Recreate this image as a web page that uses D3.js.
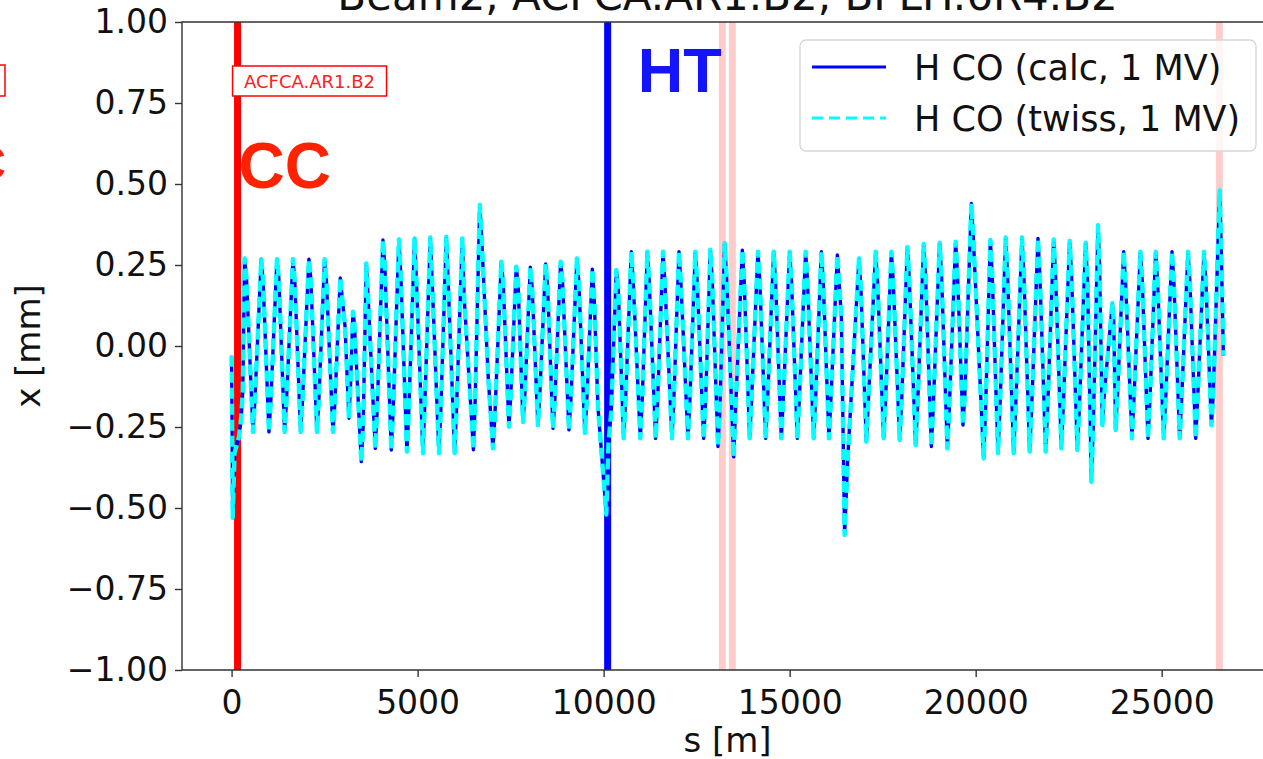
<!DOCTYPE html>
<html lang="en">
<head>
  <meta charset="UTF-8">
  <title>Beam2 closed orbit</title>
  <script type="text/javascript" src="https://d3js.org/d3.v7.min.js"></script>
  <style>
    body{
      margin:0;
      background:#fff;
    }
    text{
      font-family:"DejaVu Sans",sans-serif;
      fill:#111;
    }
    .tag{
      font-family:"Liberation Sans",Arial,sans-serif;
      font-weight:bold;
    }
  </style>
</head>
<body>
  <svg></svg>
  <script type="text/javascript">

  // horizontal closed orbit, [s in m, x in mm]
  var orbitCalc = [
    [0,-0.03],[30,-0.53],[80,-0.33],[200,-0.28],[260,-0.22],[300,-0.14],
    [350,0.27],[400,0.21],[575,-0.265],[625,-0.17],
    [797,0.268],[847,0.2],[1004,-0.265],[1054,-0.17],
    [1219,0.268],[1269,0.21],[1425,-0.265],[1475,-0.17],
    [1649,0.268],[1699,0.2],[1855,-0.265],[1905,-0.17],
    [2078,0.268],[2128,0.21],[2294,-0.265],[2344,-0.17],
    [2500,0.268],[2550,0.2],[2724,-0.265],[2774,-0.18],
    [2921,0.21],[3050,0.06],[3154,-0.223],[3204,-0.1],
    [3262,0.106],[3300,0.07],[3486,-0.357],[3536,-0.25],
    [3620,0.255],[3670,0.15],[3862,-0.316],[3912,-0.2],
    [4068,0.327],[4118,0.25],[4292,-0.321],[4342,-0.2],
    [4498,0.329],[4548,0.22],[4713,-0.326],[4763,-0.2],
    [4919,0.332],[4969,0.2],[5143,-0.331],[5193,-0.18],
    [5341,0.335],[5391,0.2],[5573,-0.331],[5623,-0.2],
    [5771,0.337],[5821,0.2],[5995,-0.331],[6045,-0.2],
    [6201,0.332],[6251,0.15],[6500,-0.32],[6540,-0.2],
    [6670,0.435],[6710,0.36],[6900,-0.1],[7025,-0.316],[7075,-0.22],
    [7249,0.26],[7299,0.2],[7455,-0.249],[7505,-0.15],
    [7652,0.245],[7702,0.19],[7832,-0.234],[7882,-0.15],
    [8029,0.243],[8079,0.18],[8234,-0.244],[8284,-0.15],
    [8441,0.253],[8491,0.19],[8638,-0.254],[8688,-0.17],
    [8844,0.26],[8894,0.2],[9068,-0.259],[9118,-0.17],
    [9282,0.27],[9332,0.2],[9497,-0.269],[9547,-0.17],
    [9696,0.237],[9746,0.15],[9847,-0.187],[10072,-0.52],[10130,-0.3],[10207,-0.2],
    [10341,0.235],[10391,0.18],[10538,-0.285],[10588,-0.17],
    [10744,0.291],[10794,0.2],[10986,-0.285],[11036,-0.17],
    [11175,0.291],[11225,0.2],[11398,-0.285],[11448,-0.18],
    [11595,0.291],[11645,0.2],[11836,-0.285],[11886,-0.17],
    [12025,0.291],[12075,0.2],[12267,-0.285],[12317,-0.17],
    [12464,0.291],[12514,0.2],[12688,-0.285],[12738,-0.18],
    [12868,0.297],[12918,0.21],[13073,-0.31],[13123,-0.2],
    [13253,0.317],[13303,0.22],[13495,-0.342],[13545,-0.2],
    [13728,0.296],[13778,0.2],[13925,-0.285],[13975,-0.17],
    [14148,0.291],[14198,0.2],[14355,-0.285],[14405,-0.17],
    [14570,0.291],[14620,0.2],[14776,-0.285],[14826,-0.17],
    [15000,0.291],[15050,0.2],[15207,-0.285],[15257,-0.17],
    [15430,0.291],[15480,0.2],[15645,-0.285],[15695,-0.17],
    [15852,0.291],[15902,0.2],[16057,-0.285],[16107,-0.17],
    [16282,0.281],[16390,0.09],[16478,-0.583],[16560,-0.35],
    [16864,0.27],[16914,0.18],[17061,-0.295],[17111,-0.18],
    [17312,0.291],[17362,0.2],[17527,-0.285],[17577,-0.17],
    [17734,0.291],[17784,0.2],[17957,-0.29],[18007,-0.18],
    [18164,0.305],[18214,0.21],[18387,-0.306],[18437,-0.19],
    [18602,0.315],[18652,0.22],[18809,-0.31],[18859,-0.19],
    [19032,0.319],[19082,0.22],[19239,-0.316],[19289,-0.2],
    [19462,0.322],[19512,0.22],[19659,-0.244],[19709,-0.15],
    [19884,0.44],[19934,0.34],[20215,-0.347],[20265,-0.2],
    [20395,0.327],[20445,0.22],[20600,-0.331],[20650,-0.2],
    [20806,0.335],[20856,0.22],[21022,-0.331],[21072,-0.2],
    [21245,0.335],[21295,0.22],[21452,-0.326],[21502,-0.2],
    [21675,0.332],[21725,0.22],[21882,-0.326],[21932,-0.2],
    [22097,0.329],[22147,0.22],[22303,-0.316],[22353,-0.19],
    [22527,0.324],[22577,0.22],[22733,-0.321],[22783,-0.2],
    [22957,0.319],[23007,0.2],[23110,-0.419],[23160,-0.25],
    [23289,0.373],[23330,0.25],[23405,-0.244],[23455,-0.15],
    [23674,0.132],[23710,0.08],[23763,-0.259],[23813,-0.15],
    [23978,0.291],[24028,0.2],[24201,-0.285],[24251,-0.17],
    [24427,0.291],[24477,0.2],[24632,-0.285],[24682,-0.17],
    [24839,0.291],[24889,0.2],[25054,-0.285],[25104,-0.17],
    [25277,0.291],[25327,0.2],[25484,-0.285],[25534,-0.17],
    [25707,0.291],[25757,0.2],[25914,-0.285],[25964,-0.17],
    [26137,0.291],[26187,0.2],[26336,-0.244],[26386,-0.15],
    [26560,0.48],[26610,0.25],[26659,-0.03]
  ];
  // the twiss orbit sits on top of the calculated one
  var orbitTwiss = orbitCalc;

  var xTicks = [0, 5000, 10000, 15000, 20000, 25000],
    yTicks = [-1, -0.75, -0.5, -0.25, 0, 0.25, 0.5, 0.75, 1],
    xDomain = [-1333, 27992],
    yDomain = [-1, 1];

  var ccPos = 160,          // crab cavity
    htPos = 10108,          // horizontal tune kicker / BPM
    faintPos = [13190, 13460, 26550],
    seriesNames = ["H CO (calc, 1 MV)", "H CO (twiss, 1 MV)"],
    title = "Beam2, ACFCA.AR1.B2, BPLH.6R4.B2";

  var W = 1263,
    H = 759,
    L = 182, R = 1273, T = 22, B = 670,
    SVG = d3.select("svg").attr("width", W).attr("height", H);

  var x = d3.scaleLinear().domain(xDomain).range([L, R]),
    y = d3.scaleLinear().domain(yDomain).range([B, T]);

  SVG.append("defs").append("clipPath").attr("id", "plot")
    .append("rect").attr("x", L).attr("y", T).attr("width", R - L).attr("height", B - T);

  var g = SVG.append("g").attr("clip-path", "url(#plot)");

  // pale markers
  g.selectAll("line.faint").data(faintPos).enter().append("line")
    .attr("class", "faint")
    .attr("x1", d => x(d)).attr("x2", d => x(d))
    .attr("y1", T).attr("y2", B)
    .attr("stroke", "#ff0000").attr("stroke-opacity", 0.2).attr("stroke-width", 7);

  g.append("line")
    .attr("x1", x(ccPos)).attr("x2", x(ccPos)).attr("y1", T).attr("y2", B)
    .attr("stroke", "#ff0000").attr("stroke-width", 7);

  g.append("line")
    .attr("x1", x(htPos)).attr("x2", x(htPos)).attr("y1", T).attr("y2", B)
    .attr("stroke", "#0000ff").attr("stroke-width", 7);

  var line = d3.line().x(d => x(d[0])).y(d => y(d[1]));

  g.append("path").datum(orbitCalc)
    .attr("d", line).attr("fill", "none")
    .attr("stroke", "#0000ff").attr("stroke-width", 3.4)
    .attr("stroke-linejoin", "round");

  g.append("path").datum(orbitTwiss)
    .attr("d", line).attr("fill", "none")
    .attr("stroke", "#00ffff").attr("stroke-width", 4.4)
    .attr("stroke-dasharray", "11,5")
    .attr("stroke-linejoin", "round");

  // axes
  var xAxis = d3.axisBottom(x).tickValues(xTicks).tickSize(7).tickPadding(6)
      .tickFormat(d3.format("d")),
    yAxis = d3.axisLeft(y).tickValues(yTicks).tickSize(7).tickPadding(7)
      .tickFormat(d => d3.format(".2f")(d).replace("-", "\u2212"));

  var gx = SVG.append("g").attr("transform", "translate(0," + B + ")").call(xAxis);
  var gy = SVG.append("g").attr("transform", "translate(" + L + ",0)").call(yAxis);
  [gx, gy].forEach(a => {
    a.select(".domain").remove();
    a.selectAll(".tick line").attr("stroke", "#333").attr("stroke-width", 1.4);
    a.selectAll(".tick text").attr("font-size", 33).attr("fill", "#111")
      .attr("font-family", "DejaVu Sans");
  });
  gx.selectAll(".tick text").attr("dy", "0.95em");

  // spines
  SVG.append("path")
    .attr("d", "M" + R + "," + T + "H" + L + "V" + B + "H" + R)
    .attr("fill", "none").attr("stroke", "#333").attr("stroke-width", 1.4);

  SVG.append("text").attr("x", (L + R) / 2).attr("y", 10)
    .attr("text-anchor", "middle").attr("font-size", 42).text(title);

  SVG.append("text").attr("x", (L + R) / 2).attr("y", 752)
    .attr("text-anchor", "middle").attr("font-size", 34).text("s [m]");

  SVG.append("text")
    .attr("transform", "translate(40," + (T + B) / 2 + ")rotate(-90)")
    .attr("text-anchor", "middle").attr("font-size", 34).text("x [mm]");

  // annotations
  var lab = SVG.append("g");
  lab.append("rect").attr("x", x(ccPos) - 5).attr("y", 66).attr("width", 154).attr("height", 30)
    .attr("fill", "#fff").attr("stroke", "#ff0000").attr("stroke-width", 1.5);
  lab.append("text").attr("x", x(ccPos) + 72).attr("y", 88)
    .attr("text-anchor", "middle").attr("font-size", 18).style("fill", "#ff2020")
    .text("ACFCA.AR1.B2");
  lab.append("text").attr("class", "tag").attr("x", x(ccPos) + 1).attr("y", 188)
    .attr("font-size", 64).style("fill", "#ff2200").text("CC");
  lab.append("text").attr("class", "tag").attr("x", x(htPos) + 30).attr("y", 92)
    .attr("font-size", 63).style("fill", "#1414ff").text("HT");

  // pieces of the neighbouring panel, cut by the left edge
  lab.append("rect").attr("x", -150).attr("y", 65).attr("width", 155).attr("height", 31)
    .attr("fill", "#fff").attr("stroke", "#ff0000").attr("stroke-width", 1.5);
  lab.append("text").attr("class", "tag").attr("x", 6).attr("y", 180)
    .attr("text-anchor", "end").attr("font-size", 48).style("fill", "#ff2200").text("CC");

  // legend
  var leg = SVG.append("g").attr("transform", "translate(800,40)");
  leg.append("rect").attr("width", 456).attr("height", 111).attr("rx", 6)
    .attr("fill", "#fff").attr("fill-opacity", 0.8)
    .attr("stroke", "#d6d6d6").attr("stroke-width", 1.3);
  var styles = [{c: "#0000ff", dash: null}, {c: "#00ffff", dash: "11,6"}];
  seriesNames.forEach((name, i) => {
    var yy = 27 + i * 51;
    leg.append("line").attr("x1", 12).attr("x2", 86).attr("y1", yy).attr("y2", yy)
      .attr("stroke", styles[i].c).attr("stroke-width", 3)
      .attr("stroke-dasharray", styles[i].dash);
    leg.append("text").attr("x", 114).attr("y", yy).attr("dy", "0.36em")
      .attr("font-size", 35).text(name);
  });

  </script>
</body>
</html>
